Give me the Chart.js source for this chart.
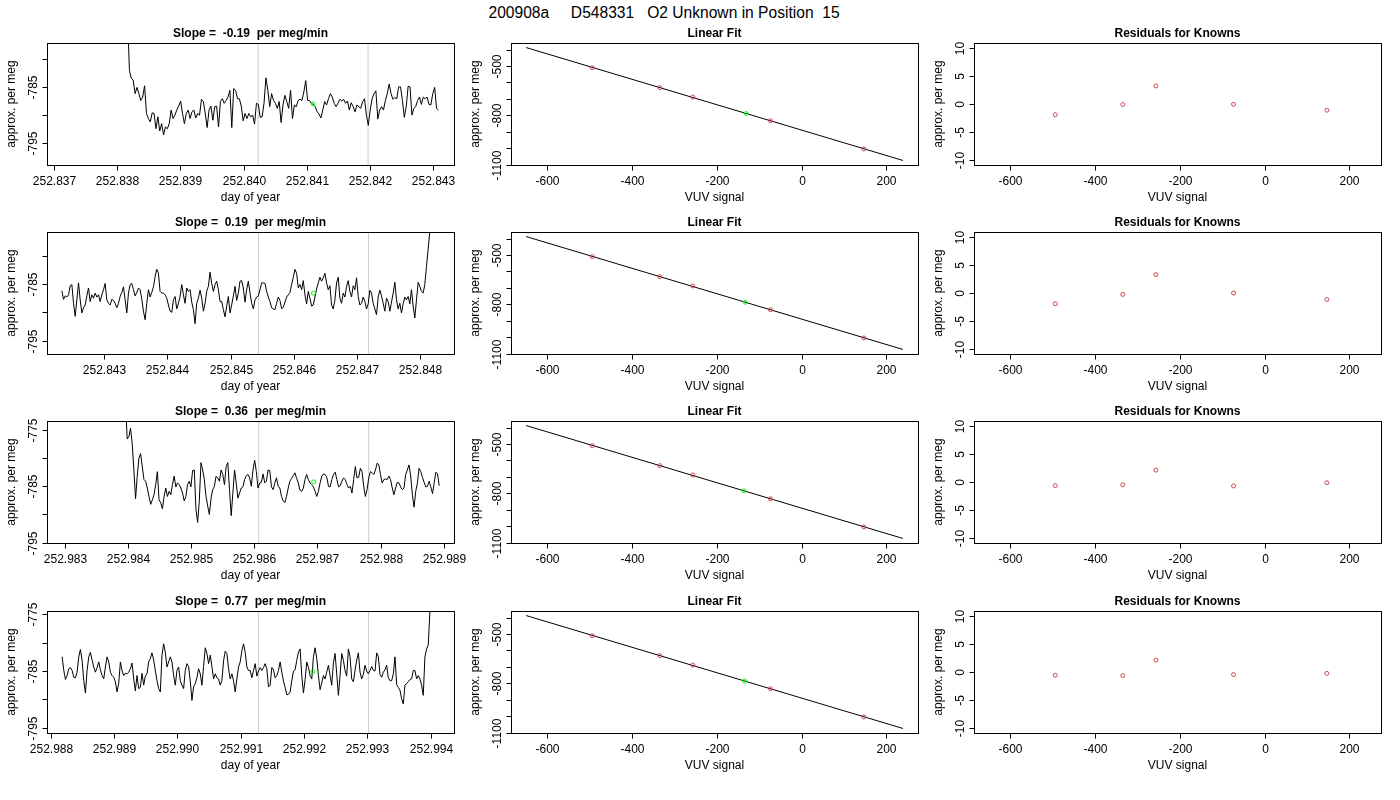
<!DOCTYPE html>
<html>
<head>
<meta charset="utf-8">
<title>200908a D548331 O2 Unknown in Position 15</title>
<script src="https://cdn.jsdelivr.net/npm/chart.js@4.4.1/dist/chart.umd.min.js"></script>
<style>
    html, body { margin: 0; padding: 0; background: #fff; }
    body {
        width: 1400px; height: 800px; position: relative; overflow: hidden;
        font-family: "Liberation Sans", Arial, Helvetica, sans-serif;
    }
    #mainTitle {
        position: absolute; left: 488.5px; top: 5px;
        font-size: 15.6px; line-height: 1; white-space: pre; color: #000;
    }
    canvas { position: absolute; }
</style>
</head>
<body>
<div id="mainTitle">200908a     D548331   O2 Unknown in Position  15</div>
<script>
/* ============================================================
   DATA
============================================================ */

const slopes = ["-0.19", "0.19", "0.36", "0.77"];

// time axis (day of year) per row
const dayLimits = [
    [252.83689, 252.84333],
    [252.84210, 252.84853],
    [252.98272, 252.98916],
    [252.98794, 252.99437],
];
const dayTicks = [
    [252.837, 252.838, 252.839, 252.840, 252.841, 252.842, 252.843],
    [252.843, 252.844, 252.845, 252.846, 252.847, 252.848],
    [252.983, 252.984, 252.985, 252.986, 252.987, 252.988, 252.989],
    [252.988, 252.989, 252.990, 252.991, 252.992, 252.993, 252.994],
];

// per meg axis of the time panels
const valueLimits = [
    [-798.82, -777.24],
    [-797.35, -775.82],
    [-795.06, -773.41],
    [-795.94, -774.41],
];
const valueTicks = [
    [-795, -790, -785, -780],
    [-795, -790, -785, -780],
    [-795, -790, -785, -780, -775],
    [-795, -790, -785, -780, -775],
];
const valueTickLabels = [
    ["-795", "", "-785", ""],
    ["-795", "", "-785", ""],
    ["-795", "", "-785", "", "-775"],
    ["-795", "", "-785", "", "-775"],
];

// first / last sample time of each (regularly sampled) run
const runSpan = [
    [252.838164, 252.843084],
    [252.842335, 252.848174],
    [252.983962, 252.988926],
    [252.988179, 252.994016],
];

const run1 = [
    -772, -782.1, -783.5, -783.8, -786.2, -785.1, -786.2, -787.4, -786.8, -784.8,
    -789.7, -790.6, -791.2, -789.6, -789.7, -792.4, -790.3, -792.8, -791.5, -793.5,
    -792.1, -792.4, -791.5, -789.1, -790.6, -790.0, -789.1, -788.4, -787.5, -789.7,
    -791.5, -789.7, -789.1, -790.6, -789.4, -789.1, -790.5, -789.7, -790.0, -787.2,
    -787.6, -789.7, -792.2, -789.1, -788.4, -790.9, -788.5, -788.4, -792.1, -787.6,
    -787.1, -787.9, -787.4, -786.8, -785.6, -792.2, -785.3, -785.6, -787.1, -787.1,
    -788.4, -791.0, -789.7, -790.6, -789.7, -790.3, -790.0, -791.6, -787.9, -788.1,
    -790.4, -790.3, -787.9, -783.4, -785.6, -788.5, -786.2, -787.4, -787.9, -788.8,
    -787.6, -791.3, -788.2, -786.5, -787.6, -788.8, -785.6, -790.6, -788.2, -788.5,
    -787.4, -787.2, -787.4, -785.9, -783.9, -787.4, -787.4, -787.9, -788.1, -788.5,
    -789.4, -789.8, -790.5, -789.1, -787.6, -788.2, -787.1, -786.2, -786.8, -787.9,
    -788.5, -787.9, -787.2, -787.5, -787.2, -787.9, -787.5, -789.1, -787.8, -788.5,
    -789.4, -788.2, -788.5, -788.8, -787.6, -787.1, -790.0, -791.8, -789.1, -787.1,
    -786.2, -785.7, -790.7, -789.1, -788.5, -789.1, -787.4, -786.2, -784.5, -786.2,
    -787.2, -786.9, -787.1, -785.0, -785.0, -787.4, -790.4, -788.5, -784.9, -785.0,
    -790.0, -788.8, -788.5, -787.4, -786.8, -788.1, -786.8, -787.1, -786.8, -788.1,
    -788.2, -786.2, -785.1, -788.8, -789.1,
];

const run2 = [
    -786.2, -787.7, -787.1, -787.3, -786.9, -785.3, -785.1, -788.4, -790.7, -787.8,
    -784.8, -787.8, -790.1, -789.2, -788.7, -787.1, -785.7, -788.1, -786.9, -787.5,
    -786.6, -787.3, -786.9, -788.1, -786.9, -786.0, -784.9, -787.8, -788.4, -788.7,
    -787.7, -787.9, -788.4, -789.2, -788.4, -787.2, -786.5, -785.5, -787.8, -790.1,
    -786.6, -785.1, -784.9, -786.0, -787.1, -786.5, -785.7, -786.0, -787.7, -789.8,
    -791.3, -788.4, -786.0, -787.3, -786.5, -785.5, -783.7, -782.4, -783.1, -786.3,
    -786.6, -786.6, -786.9, -787.5, -788.7, -789.8, -790.0, -787.8, -787.2, -789.4,
    -788.4, -787.2, -785.1, -786.9, -788.4, -785.7, -786.3, -786.0, -788.2, -789.5,
    -792.0, -788.4, -787.5, -786.1, -787.5, -789.8, -788.4, -786.3, -785.4, -782.9,
    -784.9, -786.3, -785.1, -784.5, -786.0, -788.1, -788.1, -789.5, -790.8, -788.9,
    -787.2, -790.1, -788.7, -787.1, -785.4, -787.9, -786.6, -784.5, -784.4, -785.7,
    -788.2, -786.0, -784.5, -786.6, -788.4, -789.4, -787.8, -787.3, -787.1, -786.0,
    -784.8, -784.8, -784.9, -786.3, -787.3, -788.1, -789.2, -789.4, -789.5, -788.4,
    -787.3, -787.9, -789.4, -789.1, -788.2, -787.3, -786.9, -786.5, -785.1, -783.8,
    -782.4, -783.1, -785.7, -785.1, -786.0, -784.4, -786.9, -788.5, -786.3, -787.5,
    -788.9, -788.7, -787.3, -785.9, -784.8, -783.8, -784.5, -783.9, -783.1, -784.8,
    -786.0, -785.3, -788.7, -789.4, -787.8, -784.8, -783.8, -787.5, -788.4, -786.6,
    -787.3, -785.4, -784.4, -786.3, -787.3, -785.3, -786.0, -783.9, -787.2, -788.7,
    -788.4, -787.3, -788.1, -789.4, -788.5, -786.1, -786.6, -788.4, -789.4, -790.4,
    -787.3, -786.1, -787.1, -788.4, -789.8, -787.5, -788.1, -789.8, -788.2, -786.6,
    -784.7, -787.8, -789.4, -788.4, -790.1, -788.5, -787.3, -787.8, -787.2, -788.5,
    -786.0, -788.9, -791.0, -787.8, -784.7, -785.4, -786.3, -786.6, -785.1, -781.9,
    -778.9, -775.7, -770,
];

const run3 = [
    -770, -776.6, -776.2, -774.7, -777.4, -782.1, -787.2, -783.2, -780.0, -779.2,
    -781.5, -783.8, -784.1, -785.3, -786.8, -788.2, -787.4, -786.5, -784.7, -782.4,
    -787.4, -787.9, -789.0, -786.8, -785.3, -786.8, -785.9, -786.5, -784.7, -783.2,
    -785.1, -784.4, -784.7, -785.3, -786.2, -787.6, -786.8, -784.7, -784.1, -785.1,
    -782.2, -782.1, -789.1, -791.4, -787.6, -780.8, -782.1, -783.8, -786.8, -788.5,
    -790.0, -787.1, -785.6, -785.0, -783.2, -783.5, -784.1, -782.1, -782.9, -784.7,
    -781.5, -780.8, -785.6, -790.2, -786.2, -782.1, -784.4, -787.1, -786.2, -785.3,
    -785.1, -783.8, -783.1, -782.9, -783.5, -785.0, -782.1, -780.4, -782.4, -785.3,
    -784.4, -784.3, -782.8, -784.4, -784.1, -782.1, -782.2, -785.1, -785.6, -784.4,
    -783.5, -785.0, -785.3, -786.8, -787.6, -787.9, -786.8, -785.3, -784.1, -783.6,
    -783.1, -782.6, -783.6, -784.4, -785.7, -785.9, -785.3, -783.8, -782.9, -783.8,
    -784.4, -784.7, -785.1, -785.9, -786.8, -785.9, -784.4, -783.2, -782.8, -782.9,
    -783.4, -785.0, -785.1, -783.8, -782.9, -782.5, -783.8, -785.1, -784.9, -784.1,
    -783.5, -783.8, -784.7, -785.3, -785.0, -786.2, -783.8, -781.5, -783.5, -783.4,
    -781.8, -782.4, -785.0, -786.8, -785.6, -783.5, -782.4, -782.6, -782.9, -782.1,
    -780.9, -781.2, -782.9, -784.4, -783.8, -783.7, -783.8, -783.2, -783.8, -785.3,
    -786.5, -785.3, -784.3, -784.4, -785.1, -785.6, -785.3, -782.9, -782.1, -781.2,
    -783.2, -786.5, -788.7, -785.9, -784.4, -781.8, -782.4, -783.4, -784.3, -785.1,
    -785.0, -784.1, -785.1, -786.3, -784.4, -782.5, -782.8, -784.9,
];

const run4 = [
    -782.5, -784.9, -786.5, -785.8, -784.6, -784.4, -784.9, -786.1, -786.2, -785.2,
    -782.5, -781.2, -783.1, -786.7, -788.9, -784.9, -782.5, -781.7, -783.1, -784.3,
    -785.2, -784.4, -783.4, -784.8, -785.8, -786.4, -784.3, -782.5, -783.4, -785.2,
    -785.8, -786.1, -786.9, -788.7, -787.2, -783.4, -784.9, -785.8, -785.4, -785.5,
    -785.2, -784.6, -783.6, -786.4, -788.5, -785.8, -788.1, -787.9, -785.4, -787.5,
    -785.9, -785.5, -783.4, -782.8, -781.8, -783.1, -784.9, -786.7, -788.1, -788.7,
    -782.2, -780.2, -781.7, -784.3, -783.4, -782.5, -783.4, -785.8, -787.5, -784.9,
    -784.3, -786.7, -787.5, -788.1, -784.9, -783.7, -784.2, -786.8, -790.2, -787.8,
    -787.2, -786.2, -784.6, -785.5, -787.5, -784.2, -780.9, -781.9, -783.7, -782.2,
    -784.2, -786.4, -785.5, -786.2, -786.4, -787.5, -786.7, -783.2, -781.5, -781.9,
    -784.6, -786.4, -785.5, -786.7, -788.7, -786.4, -784.3, -783.4, -781.4, -780.2,
    -781.7, -784.3, -784.9, -784.9, -786.2, -784.9, -783.7, -785.9, -785.0, -784.4,
    -784.9, -784.4, -783.7, -784.6, -787.8, -787.5, -784.4, -784.8, -786.2, -785.8,
    -784.9, -783.4, -785.2, -786.8, -787.9, -789.2, -789.1, -788.7, -786.7, -785.0,
    -784.8, -783.1, -781.7, -781.1, -785.8, -788.9, -786.5, -783.4, -784.4, -785.8,
    -786.4, -782.5, -780.9, -782.8, -785.8, -788.3, -787.1, -785.8, -786.4, -785.2,
    -784.0, -785.8, -787.5, -783.6, -781.9, -785.5, -789.3, -785.8, -781.9, -783.1,
    -784.9, -785.9, -781.1, -782.5, -786.4, -786.9, -784.9, -783.1, -781.8, -785.2,
    -786.4, -785.6, -784.0, -785.0, -785.5, -784.9, -784.2, -784.9, -785.0, -781.8,
    -782.5, -785.6, -786.1, -785.2, -784.8, -784.0, -786.2, -786.7, -786.7, -785.5,
    -782.5, -787.4, -787.9, -788.4, -789.9, -790.8, -787.5, -787.2, -786.9, -786.5,
    -786.4, -784.9, -784.9, -786.4, -785.8, -786.4, -787.5, -789.3, -782.5, -781.1,
    -780.4, -774.4, -770,
];

const runs = [run1, run2, run3, run4];

// grey reference lines (cycle boundaries) and the unknown's mark
const markerDays = [
    [252.84023, 252.84197],
    [252.84544, 252.84718],
    [252.98607, 252.98781],
    [252.99128, 252.99302],
];
const unknownDay = [252.84110, 252.84631, 252.98694, 252.99214];
const unknownValue = [-788.0, -786.6, -784.2, -785.1];
const unknownSignal = [-130.5, -132.3, -135.4, -134.2];

// calibration: knowns and fitted line
const knownSignal = [-493, -334, -256, -73, 147];
const knownValue = [-510.2, -631.3, -687.9, -832.3, -1003.1];
const fitSignal = [-649, 239];
const fitValue = [-388, -1073];

const residuals = [
    [-1.9, -0.1, 3.2, -0.05, -1.1],
    [-1.9, -0.25, 3.25, 0.0, -1.15],
    [-0.64, -0.5, 2.1, -0.7, -0.13],
    [-0.57, -0.64, 2.1, -0.45, -0.25],
];

const signalLimits = [-684.5, 274.5];
const signalTicks = [-600, -400, -200, 0, 200];
const fitLimits = [-1100.5, -360.5];
const fitTicks = [-1100, -1000, -900, -800, -700, -600, -500, -400];
const fitTickLabels = ["-1100", "", "", "-800", "", "", "-500", ""];
const residLimits = [-10.8, 10.8];
const residTicks = [-10, -5, 0, 5, 10];

/* ============================================================
   LAYOUT
============================================================ */

const FONT = '"Liberation Sans", Arial, Helvetica, sans-serif';
const colLeft = [47, 511, 974];
const rowTop = [43, 232, 421, 611];
const BOX_W = 407;
const BOX_H = 122;
const PAD = { left: 47, top: 25, right: 20, bottom: 45 };

const RED = "#d0454f";
const GREEN = "#00ff00";
const GREY = "#cccccc";

/* ============================================================
   R-style frame: box, outward ticks, rotated y labels, titles
============================================================ */

function rFrame(cfg) {
    return {
        id: "rFrame",
        afterDraw(chart) {
            const { ctx, chartArea: a } = chart;
            const xs = chart.scales.x;
            const ys = chart.scales.y;

            ctx.save();
            ctx.strokeStyle = "#000";
            ctx.fillStyle = "#000";
            ctx.lineWidth = 1;
            ctx.strokeRect(a.left + 0.5, a.top + 0.5, a.width, a.height);

            ctx.font = "12px " + FONT;
            ctx.textBaseline = "alphabetic";
            ctx.textAlign = "center";

            cfg.xTicks.forEach((v, i) => {
                const px = Math.round(xs.getPixelForValue(v)) + 0.5;
                ctx.beginPath();
                ctx.moveTo(px, a.bottom + 0.5);
                ctx.lineTo(px, a.bottom + 5.5);
                ctx.stroke();
                ctx.fillText(cfg.xLabels[i], px, a.bottom + 19.5);
            });

            cfg.yTicks.forEach((v, i) => {
                const py = Math.round(ys.getPixelForValue(v)) + 0.5;
                ctx.beginPath();
                ctx.moveTo(a.left + 0.5, py);
                ctx.lineTo(a.left - 4.5, py);
                ctx.stroke();
                if (cfg.yLabels[i]) {
                    ctx.save();
                    ctx.translate(a.left - 10.5, py);
                    ctx.rotate(-Math.PI / 2);
                    ctx.fillText(cfg.yLabels[i], 0, 0);
                    ctx.restore();
                }
            });

            const midX = (a.left + a.right) / 2;
            const midY = (a.top + a.bottom) / 2;

            ctx.fillText(cfg.xTitle, midX, a.bottom + 35.5);

            ctx.save();
            ctx.translate(a.left - 32, midY);
            ctx.rotate(-Math.PI / 2);
            ctx.fillText(cfg.yTitle, 0, 0);
            ctx.restore();

            ctx.font = "bold 12px " + FONT;
            ctx.fillText(cfg.title, midX, a.top - 6);
            ctx.restore();
        }
    };
}

/* ============================================================
   Dataset helpers
============================================================ */

function lineSet(points, color) {
    return {
        data: points,
        showLine: true,
        borderColor: color,
        borderWidth: 1,
        pointRadius: 0,
        pointHoverRadius: 0,
        tension: 0,
        fill: false,
    };
}

function ringSet(points, color) {
    return {
        data: points,
        showLine: false,
        pointStyle: "circle",
        pointRadius: 2,
        pointHoverRadius: 2,
        borderWidth: 1,
        borderColor: color,
        backgroundColor: "rgba(0,0,0,0)",
    };
}

function zipPoints(xs, ys) {
    return xs.map((x, i) => ({ x: x, y: ys[i] }));
}

function sampleTimes(span, n) {
    const step = (span[1] - span[0]) / (n - 1);
    return Array.from({ length: n }, (_, i) => span[0] + i * step);
}

function addPanel(row, col, cfg) {
    const canvas = document.createElement("canvas");
    canvas.width = PAD.left + BOX_W + PAD.right;
    canvas.height = PAD.top + BOX_H + PAD.bottom;
    canvas.style.left = (colLeft[col] - PAD.left) + "px";
    canvas.style.top = (rowTop[row] - PAD.top) + "px";
    document.body.appendChild(canvas);

    new Chart(canvas, {
        type: "scatter",
        data: { datasets: cfg.datasets },
        options: {
            responsive: false,
            animation: false,
            events: [],
            layout: { padding: PAD },
            scales: {
                x: { type: "linear", display: false, min: cfg.xlim[0], max: cfg.xlim[1] },
                y: { type: "linear", display: false, min: cfg.ylim[0], max: cfg.ylim[1] },
            },
            plugins: {
                legend: { display: false },
                tooltip: { enabled: false },
            }
        },
        plugins: [rFrame(cfg)]
    });
}

/* ============================================================
   Build the 4 x 3 grid
============================================================ */

const signalLabels = signalTicks.map(String);

for (let r = 0; r < 4; r++) {
    const times = sampleTimes(runSpan[r], runs[r].length);
    const lo = valueLimits[r][0] - 5;
    const hi = valueLimits[r][1] + 5;

    // first dataset is drawn on top
    const tsSets = [
        ringSet([{ x: unknownDay[r], y: unknownValue[r] }], GREEN),
        lineSet(zipPoints(times, runs[r]), "#000"),
    ];
    markerDays[r].forEach(d => {
        tsSets.push(lineSet([{ x: d, y: lo }, { x: d, y: hi }], GREY));
    });

    addPanel(r, 0, {
        title: "Slope =  " + slopes[r] + "  per meg/min",
        xTitle: "day of year",
        yTitle: "approx. per meg",
        xlim: dayLimits[r],
        ylim: valueLimits[r],
        xTicks: dayTicks[r],
        xLabels: dayTicks[r].map(v => v.toFixed(3)),
        yTicks: valueTicks[r],
        yLabels: valueTickLabels[r],
        datasets: tsSets,
    });

    addPanel(r, 1, {
        title: "Linear Fit",
        xTitle: "VUV signal",
        yTitle: "approx. per meg",
        xlim: signalLimits,
        ylim: fitLimits,
        xTicks: signalTicks,
        xLabels: signalLabels,
        yTicks: fitTicks,
        yLabels: fitTickLabels,
        datasets: [
            ringSet([{ x: unknownSignal[r], y: unknownValue[r] }], GREEN),
            ringSet(zipPoints(knownSignal, knownValue), RED),
            lineSet(zipPoints(fitSignal, fitValue), "#000"),
        ],
    });

    addPanel(r, 2, {
        title: "Residuals for Knowns",
        xTitle: "VUV signal",
        yTitle: "approx. per meg",
        xlim: signalLimits,
        ylim: residLimits,
        xTicks: signalTicks,
        xLabels: signalLabels,
        yTicks: residTicks,
        yLabels: residTicks.map(String),
        datasets: [
            ringSet(zipPoints(knownSignal, residuals[r]), RED),
        ],
    });
}
</script>
</body>
</html>
